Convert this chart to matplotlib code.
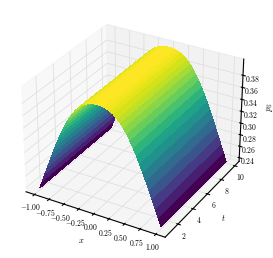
import numpy as np
import matplotlib
matplotlib.use("Agg")
import matplotlib.pyplot as plt
from matplotlib.ticker import FuncFormatter

plt.rcParams["mathtext.fontset"] = "cm"
plt.rcParams["font.family"] = "serif"
plt.rcParams["font.serif"] = ["cmr10", "DejaVu Serif"]
plt.rcParams["axes.formatter.use_mathtext"] = True

# values
x_right = [0.00, 0.05, 0.10, 0.15, 0.20, 0.25, 0.30, 0.35, 0.40, 0.45, 0.50,
           0.55, 0.60, 0.65, 0.70, 0.75, 0.80, 0.85, 0.90, 0.95, 1.00]
p3_right = [0.4030, 0.4028, 0.4020, 0.4005, 0.3982, 0.3950, 0.3905, 0.3850, 0.3785, 0.3708, 0.3620,
            0.3522, 0.3415, 0.3300, 0.3178, 0.3050, 0.2918, 0.2782, 0.2645, 0.2507, 0.2370]
t_range = [1, 10]
x_ticks = [-1.00, -0.75, -0.50, -0.25, 0.00, 0.25, 0.50, 0.75, 1.00]
t_ticks = [2, 4, 6, 8, 10]
z_ticks = [0.24, 0.26, 0.28, 0.30, 0.32, 0.34, 0.36, 0.38]

x = np.array([-v for v in x_right[:0:-1]] + x_right)
p3 = np.array(p3_right[:0:-1] + p3_right)
t = np.linspace(t_range[0], t_range[1], 50)  # fine t grid, p3 does not change along t
X, T = np.meshgrid(x, t)
Z = np.tile(p3, (len(t), 1))

fig = plt.figure(figsize=(2.73, 2.58), dpi=100)
ax = fig.add_axes([-0.012, 0.02, 0.985, 0.96], projection="3d")
ax.plot_surface(X, T, Z, cmap="viridis", rstride=1, cstride=1, linewidth=0, antialiased=False)

ax.set_xticks(x_ticks)
ax.set_yticks(t_ticks)
ax.set_zticks(z_ticks)
ax.xaxis.set_major_formatter(FuncFormatter(lambda v, p: f"${v:.2f}$"))
ax.yaxis.set_major_formatter(FuncFormatter(lambda v, p: f"${v:.0f}$"))
ax.zaxis.set_major_formatter(FuncFormatter(lambda v, p: f"${v:.2f}$"))
ax.tick_params(labelsize=5.5, pad=-4, length=2, width=0.4)
ax.set_xlabel("$x$", fontsize=6, labelpad=-7)
ax.set_ylabel("$t$", fontsize=6, labelpad=-8)
ax.set_zlabel("$p_3$", fontsize=6, labelpad=-8)
for a in (ax.xaxis, ax.yaxis, ax.zaxis):
    a._axinfo["grid"]["linewidth"] = 0.5
    a._axinfo["grid"]["color"] = "#dcdcdc"
    a._axinfo["axisline"]["linewidth"] = 0.4
    a._axinfo["axisline"]["color"] = (0, 0, 0, 0.6)

fig.savefig("out.png", dpi=100)
